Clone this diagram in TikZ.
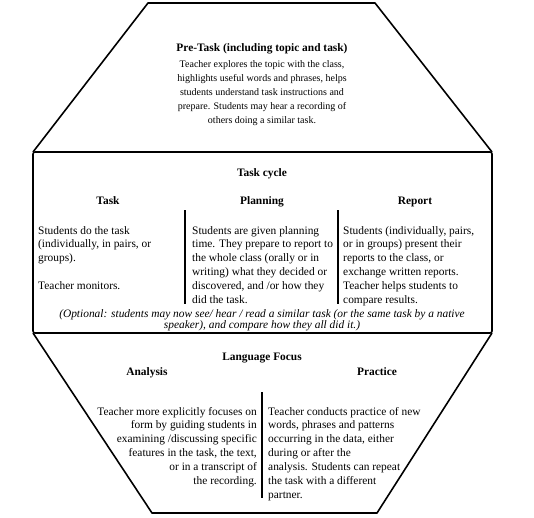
\documentclass[tikz,border=0pt]{standalone}
\usepackage{fontspec}
\setmainfont{Liberation Serif}
\usetikzlibrary{positioning}

\begin{document}
\begin{tikzpicture}[x=1bp, y=-1bp,
    every node/.style={inner sep=0pt, font=\fontsize{11.4bp}{13.9bp}\selectfont},
    head/.style={font=\fontsize{11.4bp}{13.9bp}\selectfont\bfseries},
    outline/.style={line width=1.6pt, line join=round}]
    \useasboundingbox (0,0) rectangle (534,518);
    % octagon outline
    \draw[outline] (33,152) -- (148,3) -- (375,3) -- (492,152);
    \draw[outline, rounded corners=2pt] (33,152) rectangle (492,333);
    \draw[outline] (33,333) -- (152,513) -- (377,513) -- (492,333);
    % dividers
    \draw[outline] (185,210) -- (185,304);
    \draw[outline] (338,210) -- (338,304);
    \draw[outline] (262,392) -- (262,498);

    % pre-task (base anchor = last line)
    \node[head, anchor=base] (pretask) at (262,52) {Pre-Task (including topic and task)};
    \node[anchor=base, align=center, font=\fontsize{10bp}{14.2bp}\selectfont] (pretasktext) at (262,124)
        {Teacher explores the topic with the class,\\
         highlights useful words and phrases, helps\\
         students understand task instructions and\\
         prepare. Students may hear a recording of\\
         others doing a similar task.};

    % task cycle
    \node[head, anchor=base] (cycle) at (262,177) {Task cycle};
    \node[head, anchor=base] (taskhead) at (108,205) {Task};
    \node[head, anchor=base] (planhead) at (262,205) {Planning};
    \node[head, anchor=base] (reporthead) at (415,205) {Report};
    \node[anchor=base west, align=left] (tasktext) at (38,289.6)
        {Students do the task\\
         (individually, in pairs, or\\
         groups).\\[13.9bp]
         Teacher monitors.};
    \node[anchor=base west, align=left] (plantext) at (192,303.5)
        {Students are given planning\\
         time. They prepare to report to\\
         the whole class (orally or in\\
         writing) what they decided or\\
         discovered, and /or how they\\
         did the task.};
    \node[anchor=base west, align=left] (reporttext) at (343,303.5)
        {Students (individually, pairs,\\
         or in groups) present their\\
         reports to the class, or\\
         exchange written reports.\\
         Teacher helps students to\\
         compare results.};
    \node[anchor=base, align=center, font=\fontsize{11.4bp}{11bp}\selectfont\itshape] (optional) at (262,328)
        {(Optional: students may now see/ hear / read a similar task (or the same task by a native\\
         speaker), and compare how they all did it.)};

    % language focus
    \node[head, anchor=base] (focus) at (262,360) {Language Focus};
    \node[head, anchor=base] (analysishead) at (147,375) {Analysis};
    \node[head, anchor=base] (practicehead) at (377,375) {Practice};
    \node[anchor=base east, align=right] (analysistext) at (257,484.5)
        {Teacher more explicitly focuses on\\
         form by guiding students in\\
         examining /discussing specific\\
         features in the task, the text,\\
         or in a transcript of\\
         the recording.};
    \node[anchor=base west, align=left] (practicetext) at (268,498.4)
        {Teacher conducts practice of new\\
         words, phrases and patterns\\
         occurring in the data, either\\
         during or after the\\
         analysis. Students can repeat\\
         the task with a different\\
         partner.};
\end{tikzpicture}
\end{document}
